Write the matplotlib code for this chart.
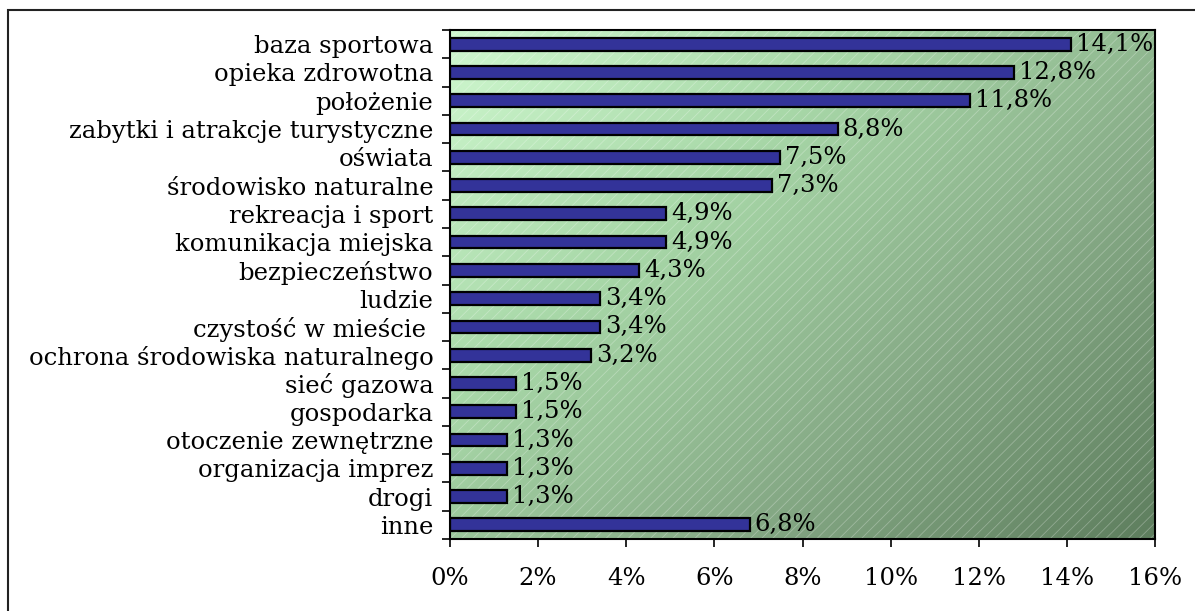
import numpy as np
import matplotlib
matplotlib.use("Agg")
import matplotlib.pyplot as plt
from matplotlib.colors import LinearSegmentedColormap
from matplotlib.patches import Rectangle
from matplotlib.ticker import FixedLocator, FuncFormatter

categories = ["baza sportowa", "opieka zdrowotna", "położenie",
              "zabytki i atrakcje turystyczne", "oświata",
              "środowisko naturalne", "rekreacja i sport",
              "komunikacja miejska", "bezpieczeństwo", "ludzie",
              "czystość w mieście ", "ochrona środowiska naturalnego",
              "sieć gazowa", "gospodarka", "otoczenie zewnętrzne",
              "organizacja imprez", "drogi", "inne"]
values = [14.1, 12.8, 11.8, 8.8, 7.5, 7.3, 4.9, 4.9, 4.3, 3.4, 3.4, 3.2,
          1.5, 1.5, 1.3, 1.3, 1.3, 6.8]
x_ticks = [0, 2, 4, 6, 8, 10, 12, 14, 16]

plt.rcParams['font.family'] = ['DejaVu Serif']
plt.rcParams['hatch.linewidth'] = 0.6
fs = 17.5

fig = plt.figure(figsize=(11.95, 6.11), dpi=100)
fig.patches.append(Rectangle((8 / 1195, -0.1), 1.2, 1.1 - 10 / 611,
                             transform=fig.transFigure, fill=False,
                             edgecolor='#222222', linewidth=1.5))
ax = fig.add_axes([450 / 1195, 72 / 611, 705 / 1195, 509 / 611])

n = len(categories)
ax.set_xlim(0, 16)
ax.set_ylim(n - 0.5, -0.5)

# diagonal green gradient background
gx, gy = np.meshgrid(np.linspace(0, 1, 300), np.linspace(0, 1, 200))
grad = 0.55 * gx + 0.45 * gy
cmap = LinearSegmentedColormap.from_list(
    "bg", ["#cff8cf", "#a8d8a8", "#86aa86", "#5e7e5e"])
ax.imshow(grad, cmap=cmap, extent=[0, 16, n - 0.5, -0.5],
          aspect='auto', zorder=0, interpolation='bilinear')
ax.add_patch(Rectangle((0, -0.5), 16, n, fill=False, hatch='///',
                       edgecolor=(1, 1, 1, 0.28), linewidth=0, zorder=1))

ypos = np.arange(n)
ax.barh(ypos, values, height=0.45, color='#333399', edgecolor='black',
        linewidth=1.6, zorder=2)
for y, v in zip(ypos, values):
    ax.text(v + 0.11, y, f"{v:.1f}%".replace('.', ','), va='center',
            ha='left', fontsize=fs, zorder=3)

ax.set_yticks(ypos)
ax.set_yticklabels(categories, fontsize=fs)
ax.yaxis.set_minor_locator(FixedLocator(np.arange(-0.5, n, 1)))
ax.tick_params(axis='y', which='major', length=0, pad=12)
ax.tick_params(axis='y', which='minor', length=6, width=1.2,
               direction='out')
ax.set_xticks(x_ticks)
ax.xaxis.set_major_formatter(FuncFormatter(lambda v, p: f"{v:.0f}%"))
ax.tick_params(axis='x', length=6, width=1.2, direction='out',
               labelsize=fs, pad=14)

for s in ax.spines.values():
    s.set_linewidth(1.5)
    s.set_zorder(4)

fig.savefig("out.png", dpi=100)
